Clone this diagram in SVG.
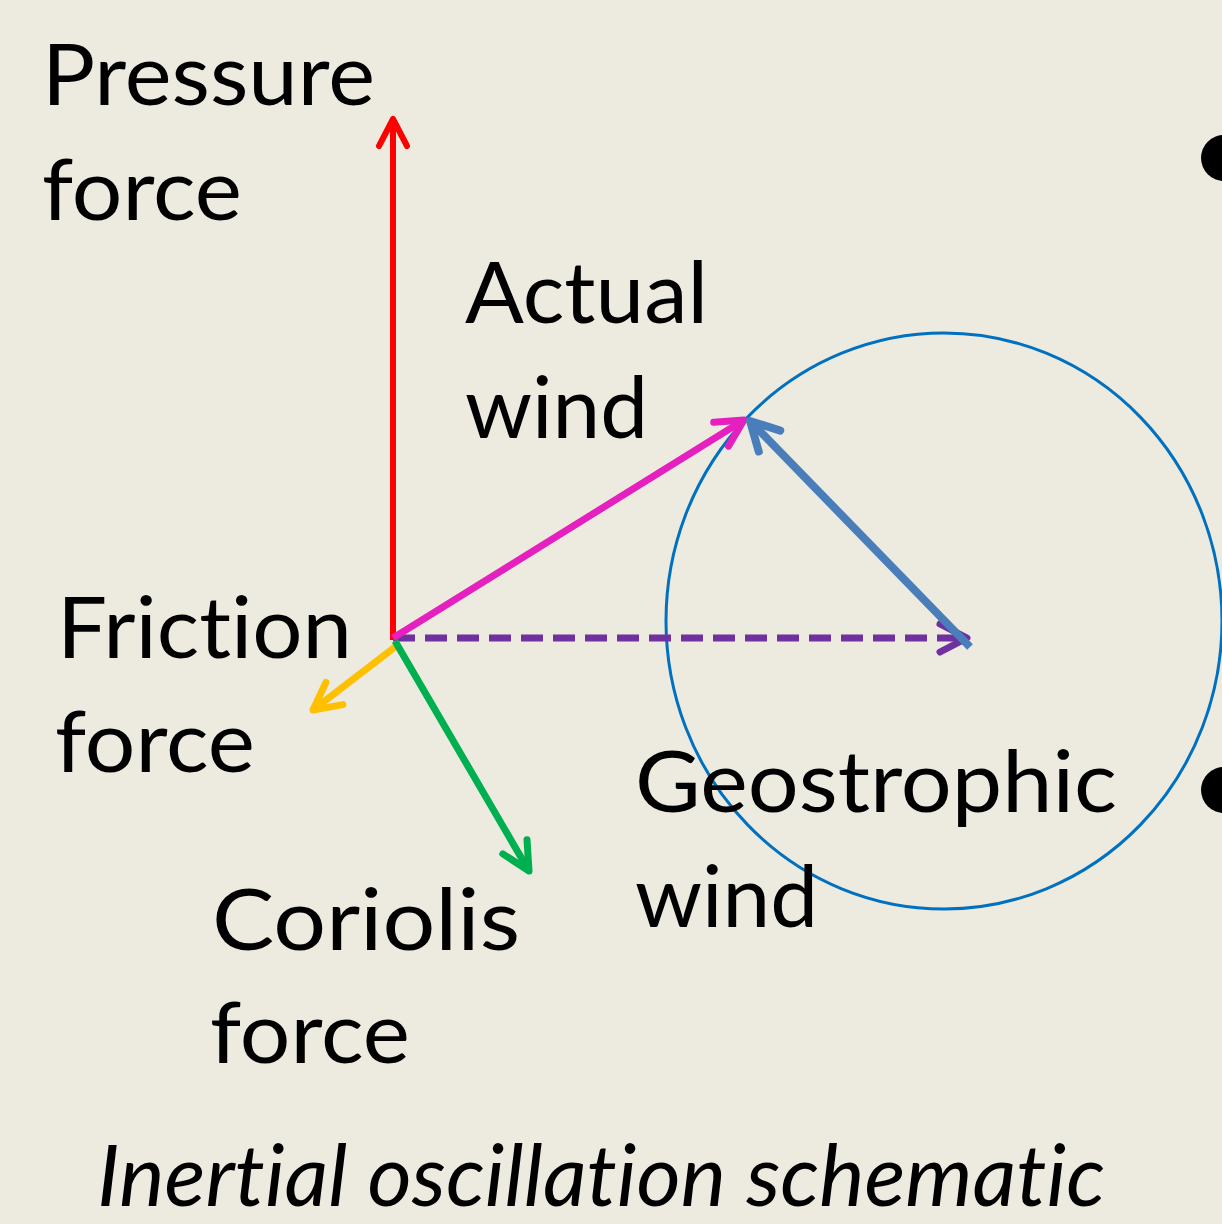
<svg xmlns="http://www.w3.org/2000/svg" width="1222" height="1224" viewBox="0 0 1222 1224">
<style>
.lbl{font-family:Lato,"Open Sans","DejaVu Sans",sans-serif;font-size:86px;fill:#000;font-variant-ligatures:none;font-feature-settings:"liga" 0,"clig" 0}
.ttl{font-family:Lato,"Open Sans","DejaVu Sans",sans-serif;font-size:86px;font-style:italic;fill:#000;font-variant-ligatures:none;font-feature-settings:"liga" 0,"clig" 0}
.vec{fill:none;stroke-linecap:butt}
.hd{fill:none;stroke-linecap:round;stroke-linejoin:round}
</style>
<defs>
<marker id="mR" markerUnits="userSpaceOnUse" orient="auto" overflow="visible" markerWidth="1" markerHeight="1"><path class="hd" d="M-27,-14 L0,0 L-27,14" stroke="#FF0000" stroke-width="6"/></marker>
<marker id="mM" markerUnits="userSpaceOnUse" orient="auto" overflow="visible" markerWidth="1" markerHeight="1"><path class="hd" d="M-27,-14 L0,0 L-27,14" stroke="#E620BE" stroke-width="7"/></marker>
<marker id="mP" markerUnits="userSpaceOnUse" orient="auto" overflow="visible" markerWidth="1" markerHeight="1"><path class="hd" d="M-27,-14 L0,0 L-27,14" stroke="#7030A0" stroke-width="7"/></marker>
<marker id="mB" markerUnits="userSpaceOnUse" orient="auto" overflow="visible" markerWidth="1" markerHeight="1"><path class="hd" d="M-28,-15 L0,0 L-28,15" stroke="#4A7EBB" stroke-width="8"/></marker>
<marker id="mO" markerUnits="userSpaceOnUse" orient="auto" overflow="visible" markerWidth="1" markerHeight="1"><path class="hd" d="M-27,-14 L0,0 L-27,14" stroke="#FFC000" stroke-width="7"/></marker>
<marker id="mG" markerUnits="userSpaceOnUse" orient="auto" overflow="visible" markerWidth="1" markerHeight="1"><path class="hd" d="M-28,-14 L0,0 L-28,14" stroke="#00B050" stroke-width="7"/></marker>
</defs>
<rect width="1222" height="1224" fill="#EDEBE0"/>
<g id="circle"><ellipse cx="944" cy="621" rx="278" ry="288" fill="none" stroke="#0070C0" stroke-width="3"/></g>
<g id="bullets"><circle cx="1224" cy="158" r="23" fill="#000"/><circle cx="1224" cy="790" r="23" fill="#000"/></g>
<g id="connectors">
<line class="vec" x1="393" y1="640" x2="393" y2="119" stroke="#FF0000" stroke-width="6" marker-end="url(#mR)"/>
<line class="vec" x1="393" y1="638" x2="967" y2="638" stroke="#7030A0" stroke-width="7" stroke-dasharray="22 10" marker-end="url(#mP)"/>
<line class="vec" x1="393" y1="638" x2="744" y2="420" stroke="#E620BE" stroke-width="7" marker-end="url(#mM)"/>
<line class="vec" x1="970" y1="647" x2="750" y2="421" stroke="#4A7EBB" stroke-width="8" marker-end="url(#mB)"/>
<line class="vec" x1="395" y1="647" x2="313" y2="710" stroke="#FFC000" stroke-width="7" marker-end="url(#mO)"/>
<line class="vec" x1="395" y1="641" x2="529" y2="871" stroke="#00B050" stroke-width="7" marker-end="url(#mG)"/>
</g>
<g id="pressure"><text class="lbl" x="42" y="105" textLength="333" lengthAdjust="spacingAndGlyphs">Pressure</text><text class="lbl" x="42" y="220" textLength="200" lengthAdjust="spacingAndGlyphs">force</text></g>
<g id="actual"><text class="lbl" x="465" y="323" textLength="243" lengthAdjust="spacingAndGlyphs">Actual</text><text class="lbl" x="465" y="438" textLength="183" lengthAdjust="spacingAndGlyphs">wind</text></g>
<g id="friction"><text class="lbl" x="57" y="658" textLength="295" lengthAdjust="spacingAndGlyphs">Friction</text><text class="lbl" x="55" y="772" textLength="200" lengthAdjust="spacingAndGlyphs">force</text></g>
<g id="geostrophic"><text class="lbl" x="635" y="812" textLength="482" lengthAdjust="spacingAndGlyphs">Geostrophic</text><text class="lbl" x="635" y="927" textLength="183" lengthAdjust="spacingAndGlyphs">wind</text></g>
<g id="coriolis"><text class="lbl" x="212" y="950" textLength="308" lengthAdjust="spacingAndGlyphs">Coriolis</text><text class="lbl" x="210" y="1063" textLength="200" lengthAdjust="spacingAndGlyphs">force</text></g>
<g id="title"><text class="ttl" x="97" y="1206" textLength="1008" lengthAdjust="spacingAndGlyphs">Inertial oscillation schematic</text></g>
</svg>
